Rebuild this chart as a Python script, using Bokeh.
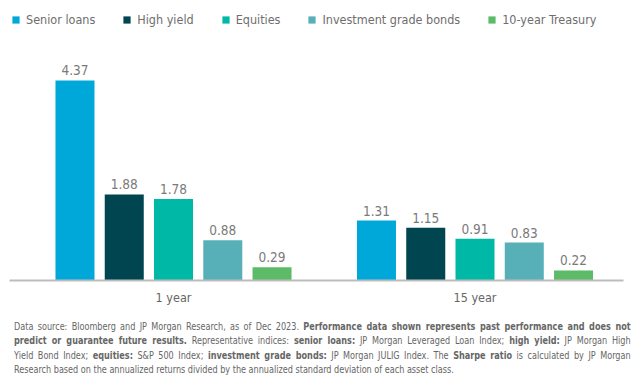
from bokeh.plotting import figure
from bokeh.models import (ColumnDataSource, Range1d, FixedTicker, Legend, LegendItem, Div)
from bokeh.layouts import column
from bokeh.core.properties import value
from bokeh.embed import file_html
from bokeh.resources import INLINE

# ---- data ----
periods = ["1 year", "15 year"]
series = ["Senior loans", "High yield", "Equities", "Investment grade bonds", "10-year Treasury"]
colors = ["#00A8DA", "#00454F", "#00B8A6", "#57B0B7", "#5DBB68"]
senior_loans = [4.37, 1.31]
high_yield = [1.88, 1.15]
equities = [1.78, 0.91]
ig_bonds = [0.88, 0.83]
treasury = [0.29, 0.22]
values_by_series = [senior_loans, high_yield, equities, ig_bonds, treasury]

footnote_lines = [
    'Data source: Bloomberg and JP Morgan Research, as of Dec 2023. <b>Performance data shown represents past performance and does not</b>',
    '<b>predict or guarantee future results.</b> Representative indices: <b>senior loans:</b> JP Morgan Leveraged Loan Index; <b>high yield:</b> JP Morgan High',
    'Yield Bond Index; <b>equities:</b> S&amp;P 500 Index; <b>investment grade bonds:</b> JP Morgan JULIG Index. The <b>Sharpe ratio</b> is calculated by JP Morgan',
    'Research based on the annualized returns divided by the annualized standard deviation of each asset class.',
]

FONT = "DejaVu Sans Condensed"
STEP = 0.1634      # distance between neighbouring bars (in group units)
BAR_W = 0.1294

p = figure(width=634, height=313, output_backend="svg", toolbar_location=None,
           x_range=Range1d(-0.544, 1.4925), y_range=Range1d(0, 5.965),
           min_border_left=9, min_border_right=11, min_border_top=7, min_border_bottom=33)
p.outline_line_color = None
p.xgrid.visible = False
p.ygrid.visible = False
p.yaxis.visible = False
p.background_fill_color = "white"

items = []
n = len(series)
for i, (name, vals, col) in enumerate(zip(series, values_by_series, colors)):
    xs = [g + (i - (n - 1) / 2) * STEP for g in range(len(periods))]
    src = ColumnDataSource(dict(x=xs, top=vals, label=[f"{v:.2f}" for v in vals]))
    r = p.vbar(x="x", top="top", width=BAR_W, bottom=0, source=src,
               fill_color=col, line_color=None)
    p.text(x="x", y="top", text="label", source=src, text_align="center",
           text_baseline="alphabetic", y_offset=-10, text_font=value(FONT),
           text_font_size="13.5px", text_color="#7a7a7a")
    items.append(LegendItem(label=name, renderers=[r]))

legend = Legend(items=items, orientation="horizontal", location="top_left",
                glyph_width=9, glyph_height=9, label_standoff=6, spacing=27,
                label_height=20, padding=0, margin=2,
                label_text_font=FONT, label_text_font_size="12.5px",
                label_text_color="#6e6e6e", label_text_baseline="middle",
                border_line_color=None, background_fill_alpha=0)
p.add_layout(legend)

ax = p.xaxis[0]
ax.ticker = FixedTicker(ticks=list(range(len(periods))))
ax.major_label_overrides = {i: lab for i, lab in enumerate(periods)}
ax.axis_line_color = "#bdbdbd"
ax.axis_line_width = 2
ax.major_tick_line_color = None
ax.minor_tick_line_color = None
ax.major_label_standoff = 3
ax.major_label_text_font = FONT
ax.major_label_text_font_size = "12.5px"
ax.major_label_text_color = "#666666"

SCALE = 0.82
html = '<div style="width:%dpx;transform:scaleX(%s);transform-origin:0 0">' % (int(617 / SCALE), SCALE)
for k, ln in enumerate(footnote_lines):
    last = k == len(footnote_lines) - 1
    html += ('<div style="white-space:nowrap;text-align:justify;text-align-last:%s">%s</div>'
             % ("left" if last else "justify", ln))
html += "</div>"
div = Div(text=html, width=626,
          styles={"font-family": FONT, "font-size": "11px", "line-height": "14.3px",
                  "color": "#666666", "margin-top": "7px", "padding-left": "9px"})

layout = column(p, div, spacing=0)
open("out.html", "w").write(file_html(layout, INLINE))
